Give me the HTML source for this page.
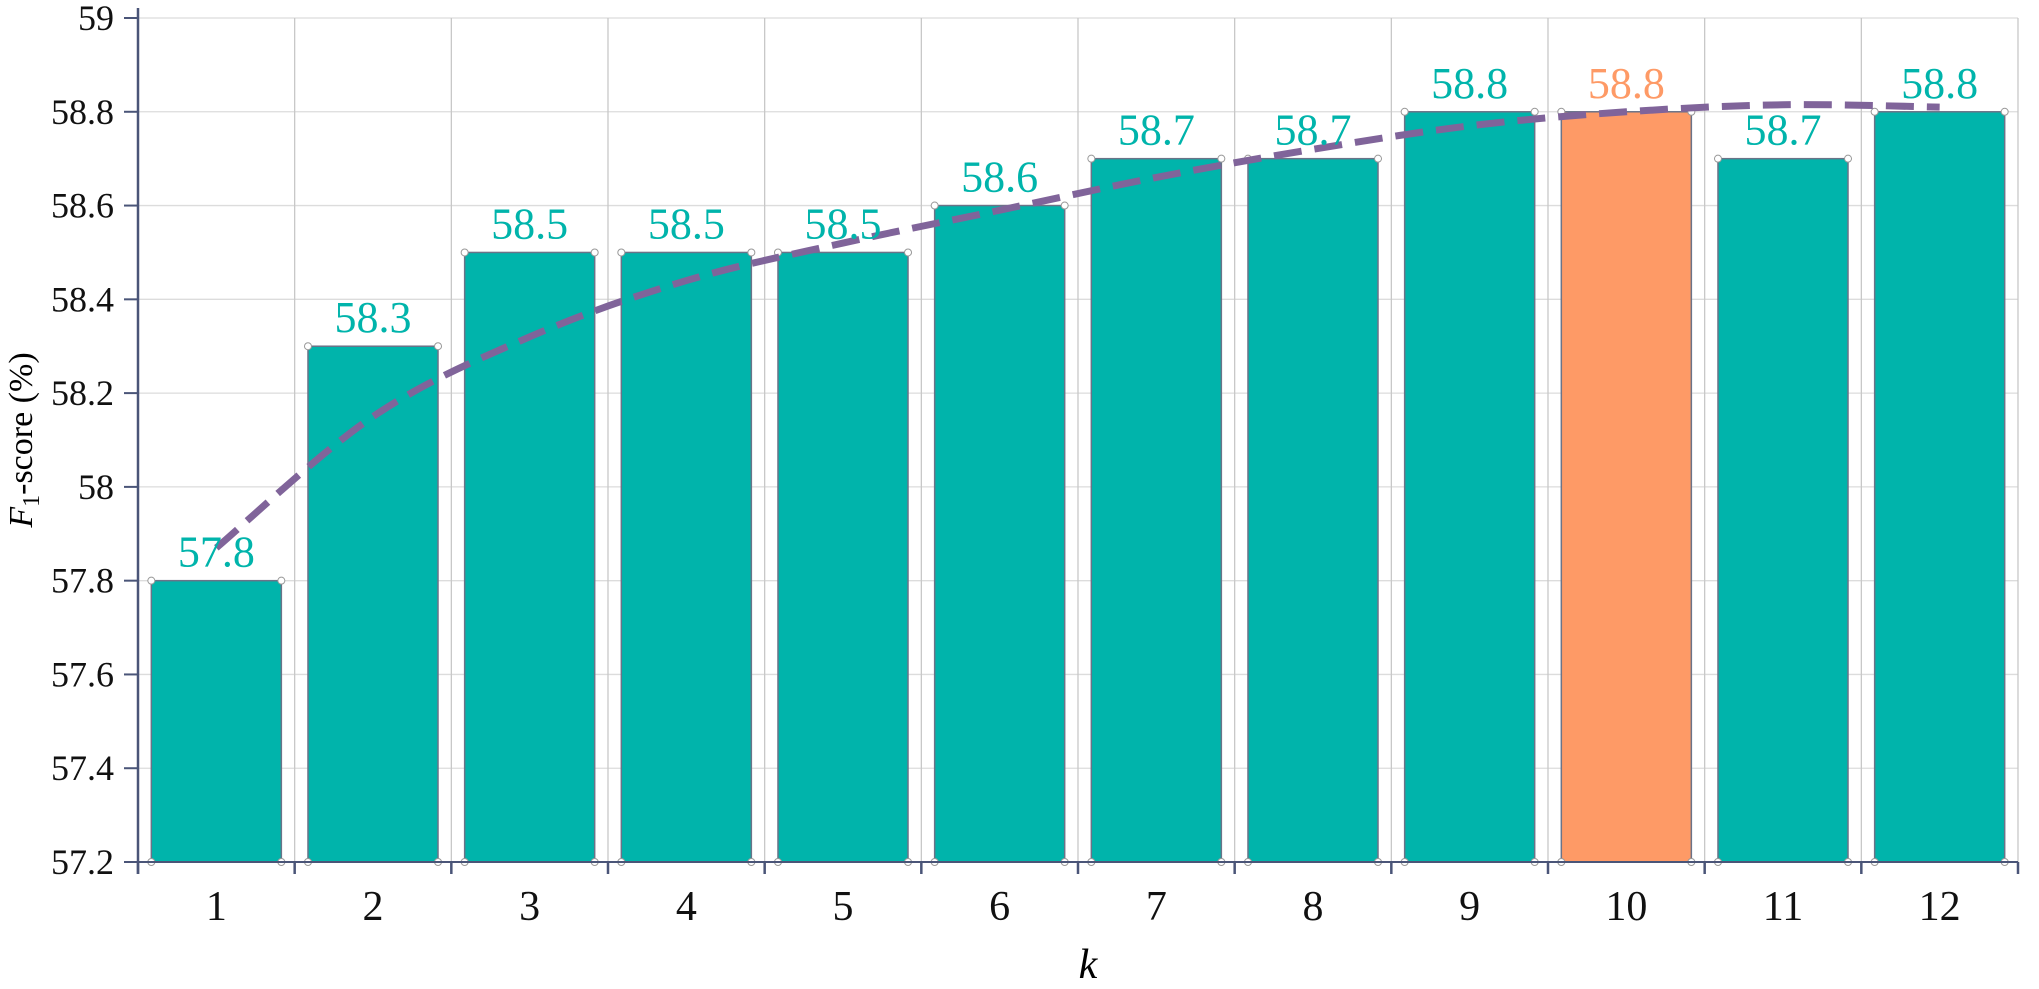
<!DOCTYPE html>
<html><head><meta charset="utf-8"><style>
html,body{margin:0;padding:0;background:#fff;}
svg{display:block;font-family:"Liberation Serif",serif;}
</style></head><body>
<svg id="chart" width="2039" height="989" viewBox="0 0 2039 989">
<g id="grid"></g>
<g id="bars"></g>
<g id="trend"></g>
<g id="labels"></g>
<g id="axes"></g>
<text x="1088" y="978" font-size="42" font-style="italic" text-anchor="middle">k</text>
<text transform="translate(32,440) rotate(-90)" font-size="34" text-anchor="middle"><tspan font-style="italic">F</tspan><tspan font-size="24" dy="7">1</tspan><tspan dy="-7">-score (%)</tspan></text>
</svg>
<script>
const categories = ["1","2","3","4","5","6","7","8","9","10","11","12"];
const values = [57.8,58.3,58.5,58.5,58.5,58.6,58.7,58.7,58.8,58.8,58.7,58.8];
const trendValues = [57.87,58.15,58.32,58.44,58.52,58.59,58.66,58.72,58.77,58.80,58.815,58.81];
const highlightIndex = 9;
const yTicks = [57.2,57.4,57.6,57.8,58,58.2,58.4,58.6,58.8,59];

const NS="http://www.w3.org/2000/svg";
const X0=138,X1=2018,Y0=862,Y1=18,YMIN=57.2,YMAX=59;
const band=(X1-X0)/categories.length;
const xs=i=>X0+band*(i+0.5);
const ys=v=>Y0-(v-YMIN)/(YMAX-YMIN)*(Y0-Y1);
function mk(tag,attrs,parent){const e=document.createElementNS(NS,tag);for(const k in attrs)e.setAttribute(k,attrs[k]);parent.appendChild(e);return e;}
const grid=document.getElementById('grid'),bars=document.getElementById('bars'),trend=document.getElementById('trend'),labels=document.getElementById('labels'),axes=document.getElementById('axes');

yTicks.forEach(t=>{
  const l=mk('line',{x1:X0,x2:X1,y1:ys(t),y2:ys(t),stroke:'#dcdcdc','stroke-width':1.3},grid);
  
  
  const tk=mk('line',{x1:X0-14,x2:X0,y1:ys(t),y2:ys(t),stroke:'#4a5578','stroke-width':2},axes);
  
  
  const tx=mk('text',{x:X0-24,y:ys(t)+12,'font-size':36,'text-anchor':'end',fill:'#111'},axes);
  tx.textContent=String(t);
  
  
});
for(let i=0;i<=categories.length;i++){
  const x=X0+band*i;
  if(i>0){const g=mk('line',{x1:x,x2:x,y1:Y1,y2:Y0,stroke:'#c8c8c8','stroke-width':1.3},grid);
  
  }
  const tk=mk('line',{x1:x,x2:x,y1:Y0,y2:Y0+12,stroke:'#4a5578','stroke-width':2.5},axes);
  
  
}
const ax=mk('line',{x1:X0,x2:X0,y1:Y1-10,y2:Y0+12,stroke:'#4a5578','stroke-width':2.5},axes);


const bx=mk('line',{x1:X0,x2:X1,y1:Y0,y2:Y0,stroke:'#4a5578','stroke-width':2},axes);



const bw=band*0.83;
categories.forEach((c,i)=>{
  const x=xs(i)-bw/2,y=ys(values[i]);
  const col=i===highlightIndex?'#fe9a66':'#00b4ab';
  const r=mk('rect',{x:x,y:y,width:bw,height:Y0-y,fill:col,stroke:'#6b7388','stroke-width':1.5},bars);
  
  
  [[x,y],[x+bw,y],[x,Y0],[x+bw,Y0]].forEach(p=>{
    const d=mk('circle',{cx:p[0],cy:p[1],r:3.5,fill:'#fff',stroke:'#999','stroke-width':1},bars);
    
    
  });
  const t=mk('text',{x:xs(i),y:y-14,'font-size':44,'text-anchor':'middle',fill:col},labels);
  t.textContent=values[i].toFixed(1);
  
  
  const xl=mk('text',{x:xs(i),y:920,'font-size':42,'text-anchor':'middle',fill:'#111'},axes);
  xl.textContent=c;
  
  
});

const pts=trendValues.map((v,i)=>[xs(i),ys(v)]);
let d='M'+pts[0][0]+','+pts[0][1];
for(let i=0;i<pts.length-1;i++){
  const p0=pts[Math.max(0,i-1)],p1=pts[i],p2=pts[i+1],p3=pts[Math.min(pts.length-1,i+2)];
  const c1=[p1[0]+(p2[0]-p0[0])/6,p1[1]+(p2[1]-p0[1])/6];
  const c2=[p2[0]-(p3[0]-p1[0])/6,p2[1]-(p3[1]-p1[1])/6];
  d+=' C'+c1+' '+c2+' '+p2;
}
const tp=mk('path',{d:d,fill:'none',stroke:'#80649a','stroke-width':7,'stroke-dasharray':'28,13'},trend);


</script>
</body></html>
